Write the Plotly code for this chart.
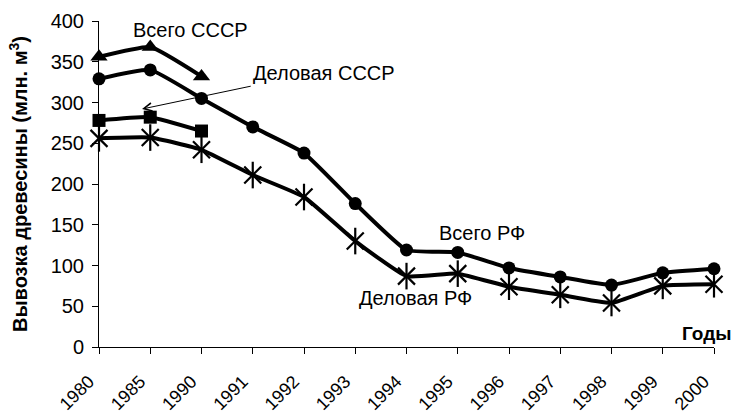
import plotly.graph_objects as go

years = ["1980", "1985", "1990", "1991", "1992", "1993", "1994",
         "1995", "1996", "1997", "1998", "1999", "2000"]
total_ussr = [356, 368, 332]
total = [329, 340, 305, 270, 238, 176, 119, 116, 97, 86, 76, 91, 96]
comm_ussr = [278, 282, 265]
comm = [256, 257, 242, 211, 184, 130, 87, 90, 74, 64, 54, 75, 77]

FONT = "Liberation Sans, Arial, sans-serif"
BLACK = "#000000"
LW = 4
SMOOTH = 0.4

fig = go.Figure()

fig.add_trace(go.Scatter(
    x=years[:3], y=total_ussr, mode="lines+markers",
    line=dict(color=BLACK, width=LW, shape="spline", smoothing=SMOOTH),
    marker=dict(symbol="triangle-up", size=15, color=BLACK),
    cliponaxis=False, showlegend=False))
fig.add_trace(go.Scatter(
    x=years, y=total, mode="lines+markers",
    line=dict(color=BLACK, width=LW, shape="spline", smoothing=SMOOTH),
    marker=dict(symbol="circle", size=13, color=BLACK),
    cliponaxis=False, showlegend=False))
fig.add_trace(go.Scatter(
    x=years[:3], y=comm_ussr, mode="lines+markers",
    line=dict(color=BLACK, width=LW, shape="spline", smoothing=SMOOTH),
    marker=dict(symbol="square", size=13, color=BLACK),
    cliponaxis=False, showlegend=False))
fig.add_trace(go.Scatter(
    x=years, y=comm, mode="lines+markers",
    line=dict(color=BLACK, width=LW, shape="spline", smoothing=SMOOTH),
    marker=dict(symbol="x-thin-open", size=17, color=BLACK,
                line=dict(color=BLACK, width=2.2)),
    cliponaxis=False, showlegend=False))
fig.add_trace(go.Scatter(
    x=years, y=comm, mode="markers",
    marker=dict(symbol="line-ns-open", size=19, color=BLACK,
                line=dict(color=BLACK, width=2.2)),
    cliponaxis=False, showlegend=False))

ann_font = dict(family=FONT, size=20, color=BLACK)
annotations = [
    dict(x=1.78, y=389, xref="x", yref="y", text="Всего СССР",
         showarrow=False, font=ann_font),
    dict(x=0.84, y=292, xref="x", yref="y", ax=2.96, ay=320,
         axref="x", ayref="y", text="Деловая СССР", showarrow=True,
         xanchor="left", yanchor="bottom",
         arrowhead=5, arrowsize=1.6, arrowwidth=1, arrowcolor=BLACK,
         font=ann_font),
    dict(x=7.47, y=140, xref="x", yref="y", text="Всего РФ",
         showarrow=False, font=ann_font),
    dict(x=6.17, y=60, xref="x", yref="y", text="Деловая РФ",
         showarrow=False, font=ann_font),
    dict(x=1.031, y=17, xref="paper", yref="y", text="<b>Годы</b>",
         showarrow=False, xanchor="right",
         font=dict(family=FONT, size=19, color=BLACK)),
]

fig.update_layout(
    width=734, height=414,
    margin=dict(l=99, r=20, t=21, b=67),
    paper_bgcolor="white", plot_bgcolor="white",
    font=dict(family=FONT, color=BLACK),
    annotations=annotations,
    xaxis=dict(type="category", range=[0, 12], showgrid=False,
               automargin=False,
               showline=True, linecolor=BLACK, linewidth=1,
               ticks="outside", ticklen=6, tickcolor=BLACK,
               tickangle=-45, ticklabelstandoff=10, ticklabelshift=-10,
               tickfont=dict(family=FONT, size=18, color=BLACK),
               zeroline=False),
    yaxis=dict(range=[0, 400], dtick=50, showgrid=False,
               automargin=False,
               showline=True, linecolor=BLACK, linewidth=1,
               ticks="outside", ticklen=6, tickcolor=BLACK,
               ticklabelstandoff=4,
               tickfont=dict(family=FONT, size=20, color=BLACK),
               zeroline=False,
               title=dict(text="<b>Вывозка древесины (млн. м<sup>3</sup>)</b>",
                          font=dict(family=FONT, size=20, color=BLACK),
                          standoff=17)),
)

fig.write_html("out.html",
               config={"displayModeBar": False},
               post_script="document.body.style.margin='0';"
                           "document.body.style.overflow='hidden';")
